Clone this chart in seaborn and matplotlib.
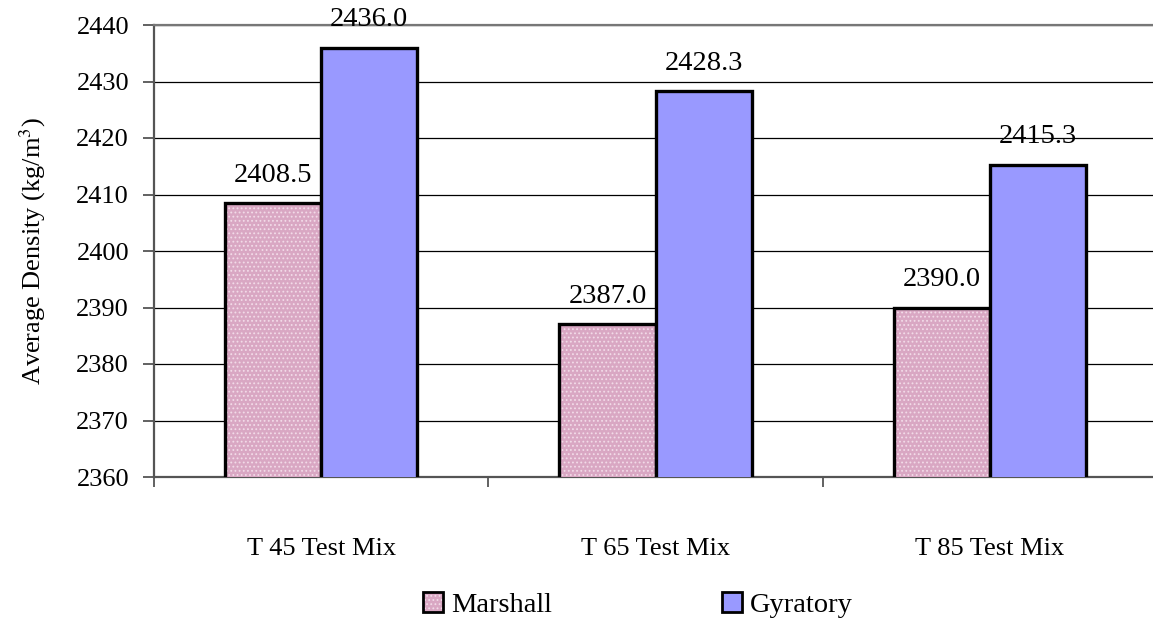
import matplotlib
matplotlib.use("Agg")
import matplotlib.pyplot as plt
import seaborn as sns
import pandas as pd
import numpy as np

# Average density by compaction method and test mix
mixes = ["T 45 Test Mix", "T 65 Test Mix", "T 85 Test Mix"]
methods = ["Marshall", "Gyratory"]
marshall = [2408.5, 2387.0, 2390.0]
gyratory = [2436.0, 2428.3, 2415.3]
y_ticks = [2360, 2370, 2380, 2390, 2400, 2410, 2420, 2430, 2440]

df = pd.DataFrame({
    "Mix": mixes * 2,
    "Method": [methods[0]] * 3 + [methods[1]] * 3,
    "Density": marshall + gyratory,
})

sns.set_theme(style="white")
plt.rcParams["font.family"] = ["Liberation Serif", "DejaVu Serif"]
plt.rcParams["mathtext.fontset"] = "stix"
plt.rcParams["hatch.linewidth"] = 0.8
plt.rcParams["text.color"] = "black"
plt.rcParams["axes.labelcolor"] = "black"
plt.rcParams["xtick.labelcolor"] = "black"
plt.rcParams["ytick.labelcolor"] = "black"

FS = 19        # axis text
FS_BIG = 20.5  # value labels and legend

W, H = 1153, 622
fig = plt.figure(figsize=(W / 100, H / 100), dpi=100)
ax = fig.add_axes([154 / W, (H - 477) / H, (1157 - 154) / W, 452 / H])

palette = {"Marshall": "#D9A7C3", "Gyratory": "#9999FF"}
sns.barplot(data=df, x="Mix", y="Density", hue="Method", order=mixes,
            hue_order=methods, palette=palette, width=0.575, gap=0,
            saturation=1, edgecolor="black", linewidth=2.4,
            legend=True, ax=ax, zorder=3)

# fine speckled texture on the Marshall bars
hatch_rgba = (0.95, 0.86, 0.91, 1.0)
for p in ax.containers[0].patches:
    p.set_hatch("....")
    p._hatch_color = hatch_rgba

ax.set_ylim(2360, 2440)
ax.set_xlim(-0.5, 2.5)
ax.set_yticks(y_ticks)
ax.set_yticklabels([str(t) for t in y_ticks])
ax.yaxis.grid(True, color="black", linewidth=0.9, zorder=0)
ax.set_axisbelow(True)

# value labels above bars
for cont in ax.containers:
    for p, v in zip(cont.patches, cont.datavalues):
        ax.annotate(f"{v:.1f}", (p.get_x() + p.get_width() / 2, v),
                    xytext=(0, 11), textcoords="offset points",
                    ha="center", va="bottom", fontsize=FS_BIG, color="black")

# category boundaries carry the tick marks; labels sit at centres
ax.set_xticks(np.arange(len(mixes)))
ax.set_xticklabels(mixes, fontsize=FS, color="black")
ax.set_xticks(np.arange(-0.5, len(mixes) + 0.5, 1.0), minor=True)
ax.tick_params(axis="x", which="major", length=0, pad=44, labelcolor="black")
ax.tick_params(axis="x", which="minor", length=7.5, width=1.3, color="#555555",
               direction="out", bottom=True)
ax.tick_params(axis="y", which="major", length=8, width=1.3, color="#555555",
               direction="out", left=True, labelsize=FS, pad=10,
               labelcolor="black")

for side in ["left", "bottom"]:
    ax.spines[side].set_color("#555555")
    ax.spines[side].set_linewidth(1.6)
ax.spines["top"].set_color("#777777")
ax.spines["top"].set_linewidth(1.6)
ax.spines["right"].set_visible(False)

ax.set_xlabel("")
ax.set_ylabel("Average Density (kg/m$^3$)", fontsize=FS, labelpad=20,
              color="black")

handles, labels = ax.get_legend_handles_labels()
ax.legend_.remove()
for h in handles:
    h.set_edgecolor("black")
    h.set_linewidth(2.0)
handles[0].set_hatch("....")
handles[0]._hatch_color = hatch_rgba
leg = fig.legend(handles, labels, loc="center",
                 bbox_to_anchor=(638 / W, 1 - 605 / H),
                 ncol=2, frameon=False, fontsize=FS_BIG, handlelength=0.69,
                 handleheight=0.69, handletextpad=0.28, columnspacing=6.0,
                 borderpad=0, borderaxespad=0)
for t in leg.get_texts():
    t.set_color("black")

fig.savefig("out.png", dpi=100)
